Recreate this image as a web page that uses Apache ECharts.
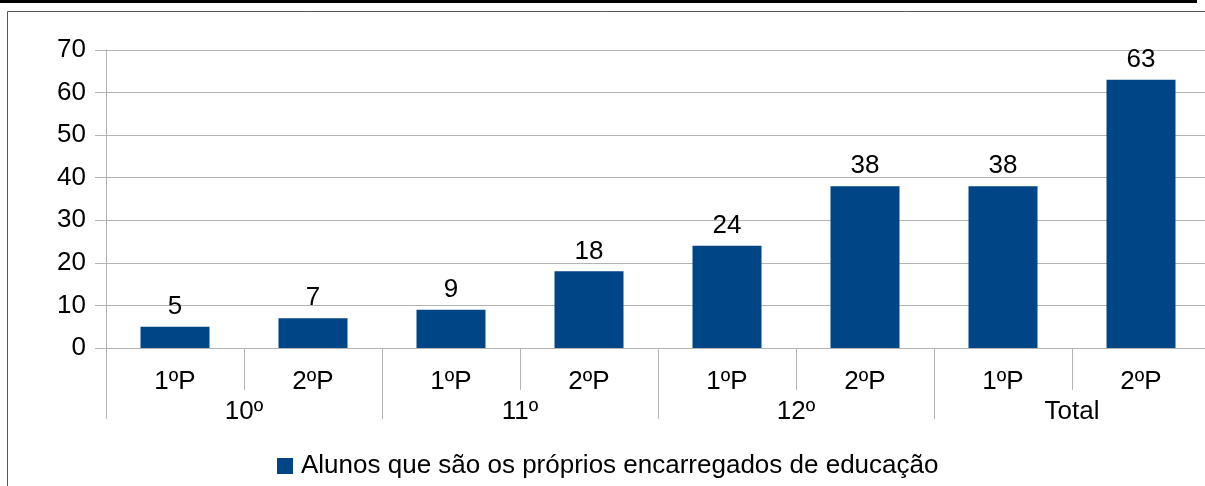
<!DOCTYPE html>
<html>
<head>
<meta charset="utf-8">
<script src="https://cdn.jsdelivr.net/npm/echarts@6/dist/echarts.min.js"></script>
<style>html,body{margin:0;padding:0;background:#fff}#c{width:1205px;height:486px}</style>
</head>
<body>
<div id="c"></div>
<script>
var periods = ['1ºP','2ºP','1ºP','2ºP','1ºP','2ºP','1ºP','2ºP'];
var groups = ['10º','11º','12º','Total'];
var values = [5, 7, 9, 18, 24, 38, 38, 63];
var seriesName = 'Alunos que são os próprios encarregados de educação';
var yTicks = {min: 0, max: 70, interval: 10};

var chart = echarts.init(document.getElementById('c'));
var font = 'Liberation Sans';
var grey = '#b3b3b3';
var fs = 26;
chart.setOption({
  animation: false,
  textStyle: {fontFamily: font},
  graphic: [
    {type: 'rect', shape: {x: 0, y: 0, width: 1197, height: 3}, style: {fill: '#000'}, z: 10},
    {type: 'polyline', shape: {points: [[7.5, 486], [7.5, 11.5], [1205, 11.5]]}, style: {stroke: '#555', lineWidth: 1, fill: null}, z: 10}
  ],
  grid: {left: 106, width: 1104, top: 50, height: 298, containLabel: false, outerBoundsMode: 'none'},
  legend: {
    show: true, left: 272, top: 448,
    icon: 'rect', itemWidth: 16, itemHeight: 16,
    textStyle: {fontFamily: font, fontSize: fs, color: '#000', padding: [0, 0, 0, 3]},
    data: [seriesName]
  },
  xAxis: [
    {
      type: 'category', data: periods, position: 'bottom',
      axisLine: {show: true, lineStyle: {color: grey}},
      axisTick: {show: true, length: 42, lineStyle: {color: grey}},
      axisLabel: {fontFamily: font, fontSize: fs, color: '#000', margin: 21, interval: 0}
    },
    {
      type: 'category', data: groups, position: 'bottom', offset: 0,
      axisLine: {show: false},
      axisTick: {show: true, length: 71, lineStyle: {color: grey}},
      axisLabel: {fontFamily: font, fontSize: fs, color: '#000', margin: 51, interval: 0}
    }
  ],
  yAxis: {
    type: 'value', min: yTicks.min, max: yTicks.max, interval: yTicks.interval,
    axisLine: {show: true, lineStyle: {color: grey}},
    axisTick: {show: true, length: 11, lineStyle: {color: grey}},
    splitLine: {show: true, lineStyle: {color: grey}},
    axisLabel: {fontFamily: font, fontSize: fs, color: '#000', margin: 20}
  },
  series: [{
    name: seriesName, type: 'bar', data: values, xAxisIndex: 0,
    barWidth: '50%',
    itemStyle: {color: '#004586'},
    label: {show: true, position: 'top', distance: 7, fontFamily: font, fontSize: fs, color: '#000'}
  }]
});
</script>
</body>
</html>
